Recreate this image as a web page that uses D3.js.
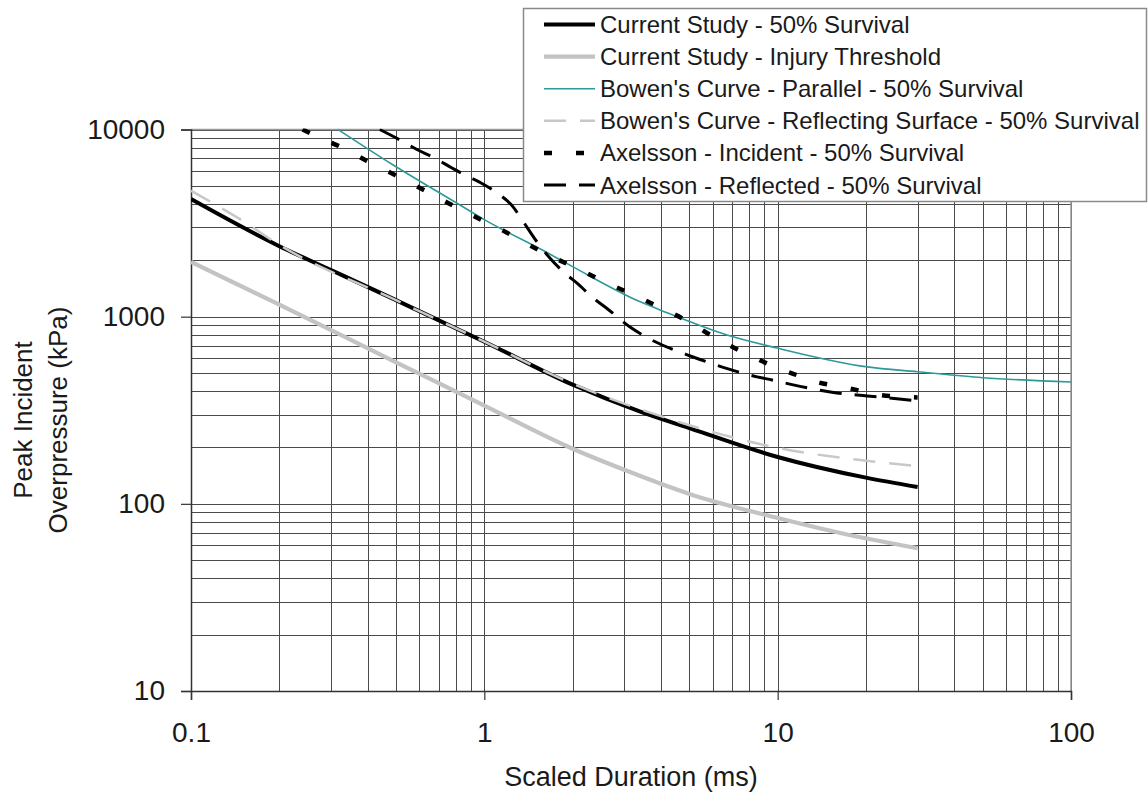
<!DOCTYPE html>
<html>
<head>
<meta charset="utf-8">
<script src="https://cdn.jsdelivr.net/npm/d3@7"></script>
<style>
  html, body { margin: 0; padding: 0; background: #fff; }
  svg { display: block; }
  text { font-family: "Liberation Sans", Arial, Helvetica, sans-serif; fill: #1a1a1a; }
</style>
</head>
<body>
<svg id="chart" width="1148" height="795"></svg>
<script>
// ---------------- data ----------------
const seriesNames = [
  "Current Study - 50% Survival",
  "Current Study - Injury Threshold",
  "Bowen's Curve - Parallel - 50% Survival",
  "Bowen's Curve - Reflecting Surface - 50% Survival",
  "Axelsson - Incident - 50% Survival",
  "Axelsson - Reflected - 50% Survival"
];

// [scaled duration (ms), peak incident overpressure (kPa)]
const currentStudy50 = [[0.1,4250],[0.2,2380],[0.3,1775],[0.5,1225],[1,735],[2,433],[3.4,311],[5,254],[10,178],[20,138],[30,123]];
const currentStudyInjury = [[0.1,1960],[0.2,1160],[0.5,570],[0.87,373],[1,335],[2,197],[3,152],[5,113],[10,84],[17.7,68],[30,58]];
const bowenParallel = [[0.317,10000],[0.486,6500],[0.826,3950],[1,3300],[1.636,2200],[2,1850],[3.4,1200],[3.97,1087],[6.72,798],[9.95,680],[20.2,539],[30,508],[50,472],[100,448]];
const bowenReflecting = [[0.1,4710],[0.13,3720],[0.15,3250],[0.2,2420],[0.5,1225],[1,735],[2,438],[3.4,320],[5,263],[10,199],[20,170],[30,159]];
const axelssonIncident = [[0.24,10000],[0.291,8680],[0.33,7970],[0.398,6790],[0.496,5710],[0.613,4810],[0.752,4050],[0.93,3420],[1.149,2900],[1.432,2400],[1.77,2030],[2.086,1800],[2.58,1530],[3.213,1310],[3.97,1120],[5.03,930],[5.74,818],[6.72,714],[8.37,602],[10.19,525],[11.3,495],[13.6,448],[17.3,416],[22.3,382],[30,370]];
const axelssonReflected = [[0.44,10000],[0.516,8790],[0.594,7770],[0.668,7120],[0.776,6230],[0.859,5710],[0.975,5180],[1.105,4580],[1.253,3860],[1.345,3290],[1.512,2510],[1.636,2140],[1.914,1670],[2.07,1510],[2.347,1260],[2.58,1127],[3.138,881],[3.614,769],[5.15,609],[5.74,573],[6.78,526],[8.51,477],[9.57,459],[11.3,432],[12.7,416],[15.9,391],[20.2,377],[30,355]];

const xTickValues = [0.1, 1, 10, 100];
const xTickLabels = ["0.1", "1", "10", "100"];
const yTickValues = [10, 100, 1000, 10000];
const yTickLabels = ["10", "100", "1000", "10000"];
const xTitle = "Scaled Duration (ms)";
const yTitleLines = ["Peak Incident", "Overpressure (kPa)"];

// ---------------- layout ----------------
const L = 191, R = 1071, T = 129.5, B = 691;
const svg = d3.select("#chart");

const x = d3.scaleLog().domain([0.1, 100]).range([L, R]);
const y = d3.scaleLog().domain([10, 10000]).range([B, T]);

// grid values (every 1..9 in each decade)
function gridVals(lo, hi) {
  const v = [];
  for (let d = lo; d < hi; d *= 10) for (let k = 1; k <= 9; k++) v.push(d * k);
  v.push(hi);
  return v;
}
const xGrid = gridVals(0.1, 100);
const yGrid = gridVals(10, 10000);

const grid = svg.append("g").attr("shape-rendering", "crispEdges");
grid.selectAll("line.vx").data(xGrid).join("line")
  .attr("x1", d => Math.round(x(d)) + 0.5).attr("x2", d => Math.round(x(d)) + 0.5)
  .attr("y1", T).attr("y2", B)
  .attr("stroke", "#4a4a4a").attr("stroke-width", 1);
grid.selectAll("line.hy").data(yGrid).join("line")
  .attr("y1", d => Math.round(y(d)) + 0.5).attr("y2", d => Math.round(y(d)) + 0.5)
  .attr("x1", L).attr("x2", R)
  .attr("stroke", "#4a4a4a").attr("stroke-width", 1);

// plot frame (top/right lighter)
svg.append("line").attr("x1", L).attr("x2", R).attr("y1", T).attr("y2", T)
  .attr("stroke", "#9a9a9a").attr("stroke-width", 1.5);
svg.append("line").attr("x1", R).attr("x2", R).attr("y1", T).attr("y2", B)
  .attr("stroke", "#9a9a9a").attr("stroke-width", 1.5);

// axes
const yAxis = d3.axisLeft(y).tickValues(yTickValues)
  .tickFormat((d, i) => yTickLabels[i]).tickSize(10).tickPadding(16);
const gy = svg.append("g").attr("transform", `translate(${L},0)`).call(yAxis);
gy.select(".domain").attr("stroke", "#333").attr("stroke-width", 1.5);
gy.selectAll(".tick line").attr("stroke", "#333").attr("stroke-width", 1.2);
gy.selectAll(".tick text").attr("font-size", 28).attr("fill", "#1a1a1a")
  .attr("font-family", "'Liberation Sans', Arial, sans-serif");

const xAxis = d3.axisBottom(x).tickValues(xTickValues)
  .tickFormat((d, i) => xTickLabels[i]).tickSize(9).tickPadding(22);
const gx = svg.append("g").attr("transform", `translate(0,${B})`).call(xAxis);
gx.select(".domain").attr("stroke", "#333").attr("stroke-width", 1.5);
gx.selectAll(".tick line").attr("stroke", "#333").attr("stroke-width", 1.2);
gx.selectAll(".tick text").attr("font-size", 28).attr("fill", "#1a1a1a")
  .attr("font-family", "'Liberation Sans', Arial, sans-serif");

// axis titles
svg.append("text").attr("x", (L + R) / 2).attr("y", 786)
  .attr("text-anchor", "middle").attr("font-size", 27).text(xTitle);
yTitleLines.forEach((t, i) => {
  svg.append("text")
    .attr("transform", `translate(${32 + i * 35},420) rotate(-90)`)
    .attr("text-anchor", "middle").attr("font-size", 26).text(t);
});

// ---------------- series ----------------
const styles = [
  { color: "#000000", width: 4,   dash: null },
  { color: "#c3c3c3", width: 4.2, dash: null },
  { color: "#2e9a98", width: 1.6, dash: null },
  { color: "#c8c8c8", width: 2.5, dash: "22,14" },
  { color: "#000000", width: 4.5, dash: "8,24" },
  { color: "#000000", width: 3,   dash: "22,13" }
];
const seriesData = [currentStudy50, currentStudyInjury, bowenParallel, bowenReflecting, axelssonIncident, axelssonReflected];

svg.append("clipPath").attr("id", "plotClip").append("rect")
  .attr("x", L).attr("y", T - 1).attr("width", R - L + 1).attr("height", B - T + 1);

const line = d3.line().x(d => x(d[0])).y(d => y(d[1])).curve(d3.curveMonotoneX);
const drawOrder = [1, 0, 3, 2, 4, 5];
const gSeries = svg.append("g").attr("clip-path", "url(#plotClip)");
drawOrder.forEach(i => {
  const s = styles[i];
  gSeries.append("path").datum(seriesData[i])
    .attr("d", line).attr("fill", "none")
    .attr("stroke", s.color).attr("stroke-width", s.width)
    .attr("stroke-dasharray", s.dash)
    .attr("stroke-linejoin", "round");
});

// ---------------- legend ----------------
const lg = svg.append("g");
lg.append("rect").attr("x", 523.5).attr("y", 8.5).attr("width", 623).attr("height", 193)
  .attr("fill", "#fff").attr("stroke", "#8a8a8a").attr("stroke-width", 1.5);
seriesNames.forEach((name, i) => {
  const cy = 24.5 + i * 32.1;
  const s = styles[i];
  lg.append("line").attr("x1", 544).attr("x2", 595).attr("y1", cy).attr("y2", cy)
    .attr("stroke", s.color).attr("stroke-width", s.width)
    .attr("stroke-dasharray", s.dash);
  lg.append("text").attr("x", 600).attr("y", cy + 8.5)
    .attr("font-size", 24).text(name);
});
</script>
</body>
</html>
